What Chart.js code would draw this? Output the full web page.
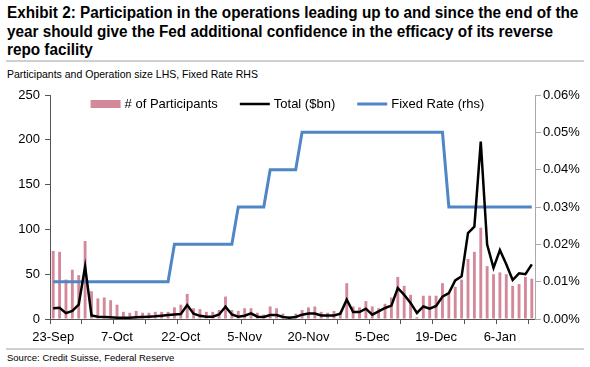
<!DOCTYPE html>
<html>
<head>
<meta charset="utf-8">
<script src="https://cdn.jsdelivr.net/npm/chart.js@4.4.1/dist/chart.umd.min.js"></script>
<style>
  html, body { margin: 0; padding: 0; background: #fff; }
  body { width: 590px; height: 367px; position: relative; overflow: hidden; font-family: "Liberation Sans", Arial, sans-serif; color: #000; }
  .title { position: absolute; left: 7px; top: 4px; font-size: 16px; font-weight: bold; line-height: 18.5px; white-space: nowrap; transform: scaleX(0.955); transform-origin: 0 0; }
  .rule { position: absolute; left: 6px; width: 578px; height: 2px; background: #d0d0d0; }
  .sub { position: absolute; left: 7px; top: 68px; font-size: 10.5px; white-space: nowrap; }
  .source { position: absolute; left: 7px; top: 352px; font-size: 9.5px; white-space: nowrap; }
  #chart { position: absolute; left: 0; top: 80px; }
</style>
</head>
<body>
<div class="title">Exhibit 2: Participation in the operations leading up to and since the end of the<br>year should give the Fed additional confidence in the efficacy of its reverse<br>repo facility</div>
<div class="rule" style="top: 60px"></div>
<div class="sub">Participants and Operation size LHS, Fixed Rate RHS</div>
<div class="rule" style="top: 348px"></div>
<div class="source">Source: Credit Suisse, Federal Reserve</div>
<canvas id="chart" width="590" height="270"></canvas>
<script>
// business days of the reverse repo test operations, Sep 2013 - Jan 2014
const dates = [
  "23-Sep", "24-Sep", "25-Sep", "26-Sep", "27-Sep", "30-Sep", "1-Oct", "2-Oct", "3-Oct", "4-Oct",
  "7-Oct", "8-Oct", "9-Oct", "10-Oct", "11-Oct", "15-Oct", "16-Oct", "17-Oct", "18-Oct", "21-Oct",
  "22-Oct", "23-Oct", "24-Oct", "25-Oct", "28-Oct", "29-Oct", "30-Oct", "31-Oct", "1-Nov", "4-Nov",
  "5-Nov", "6-Nov", "7-Nov", "8-Nov", "12-Nov", "13-Nov", "14-Nov", "15-Nov", "18-Nov", "19-Nov",
  "20-Nov", "21-Nov", "22-Nov", "25-Nov", "26-Nov", "27-Nov", "29-Nov", "2-Dec", "3-Dec", "4-Dec",
  "5-Dec", "6-Dec", "9-Dec", "10-Dec", "11-Dec", "12-Dec", "13-Dec", "16-Dec", "17-Dec", "18-Dec",
  "19-Dec", "20-Dec", "23-Dec", "24-Dec", "26-Dec", "27-Dec", "30-Dec", "31-Dec", "2-Jan", "3-Jan",
  "6-Jan", "7-Jan", "8-Jan", "9-Jan", "10-Jan", "13-Jan"
];

const participants = [
  76, 75, 44, 55, 49, 87, 31, 23, 24, 21,
  16, 8, 7, 9, 7, 7, 8, 8, 8, 13,
  16, 28, 12, 11, 8, 8, 10, 25, 10, 9,
  12, 12, 7, 5, 14, 12, 6, 3, 6, 10,
  13, 14, 8, 7, 9, 8, 40, 14, 13, 20,
  14, 12, 17, 24, 47, 37, 27, 2, 26, 26,
  26, 40, 29, 36, 44, 67, 75, 102, 59, 50,
  52, 50, 37, 39, 47, 45
];

const totalBn = [
  12, 12.5, 6.5, 9, 16, 58.5, 4, 2.5, 2.2, 2,
  1.5, 1.5, 1.5, 1.9, 2.2, 2.6, 3, 3.7, 4.5, 5,
  5.5, 15.6, 6, 3.5, 2.6, 2.6, 5, 13.8, 5, 2.6,
  3.7, 6.3, 2.6, 2.2, 4.5, 4.5, 2.2, 1.5, 2.2, 4.8,
  6, 6, 4, 4, 4, 6, 21.6, 7.8, 7.8, 11.5,
  4.8, 8.6, 12.3, 14.9, 34.6, 27, 18, 6.7, 14, 11.5,
  14.5, 25, 29, 43, 47.6, 96, 103, 198, 83, 57,
  77, 61, 43.5, 51, 50, 61
];

// fixed rate in percent
const fixedRate = [
  0.01, 0.01, 0.01, 0.01, 0.01, 0.01, 0.01, 0.01, 0.01, 0.01,
  0.01, 0.01, 0.01, 0.01, 0.01, 0.01, 0.01, 0.01, 0.01, 0.02,
  0.02, 0.02, 0.02, 0.02, 0.02, 0.02, 0.02, 0.02, 0.02, 0.03,
  0.03, 0.03, 0.03, 0.03, 0.04, 0.04, 0.04, 0.04, 0.04, 0.05,
  0.05, 0.05, 0.05, 0.05, 0.05, 0.05, 0.05, 0.05, 0.05, 0.05,
  0.05, 0.05, 0.05, 0.05, 0.05, 0.05, 0.05, 0.05, 0.05, 0.05,
  0.05, 0.05, 0.03, 0.03, 0.03, 0.03, 0.03, 0.03, 0.03, 0.03,
  0.03, 0.03, 0.03, 0.03, 0.03, 0.03
];

const FONT = '"Liberation Sans", Arial, sans-serif';
Chart.defaults.font.family = FONT;
Chart.defaults.color = '#000';

// legend sits inside the plot, along the top
const inlineLegend = {
  id: 'inlineLegend',
  afterDraw(chart) {
    const { ctx, chartArea } = chart;
    const y = chartArea.top + 9;
    ctx.save();
    ctx.font = '13px ' + FONT;
    ctx.textBaseline = 'middle';
    const items = chart.data.datasets.map(ds => ({ ds, w: 30 + 4 + ctx.measureText(ds.label).width }));
    const gap = 22;
    const total = items.reduce((s, it) => s + it.w, 0) + gap * (items.length - 1);
    let x = (chartArea.left + chartArea.right) / 2 - 5 - total / 2;
    items.forEach(({ ds, w }) => {
      if (ds.type === 'bar') {
        ctx.fillStyle = ds.backgroundColor;
        ctx.fillRect(x, y - 4, 30, 8);
      } else {
        ctx.strokeStyle = ds.borderColor;
        ctx.lineWidth = ds.borderWidth;
        ctx.beginPath();
        ctx.moveTo(x, y);
        ctx.lineTo(x + 30, y);
        ctx.stroke();
      }
      ctx.fillStyle = '#000';
      ctx.fillText(ds.label, x + 34, y + 0.5);
      x += w + gap;
    });
    ctx.restore();
  }
};

new Chart(document.getElementById('chart'), {
  type: 'bar',
  data: {
    labels: dates,
    datasets: [{
      type: 'bar',
      label: '# of Participants',
      data: participants,
      backgroundColor: '#d4899b',
      barPercentage: 0.45,
      categoryPercentage: 1,
      yAxisID: 'y',
      order: 3
    }, {
      type: 'line',
      label: 'Total ($bn)',
      data: totalBn,
      borderColor: '#000',
      borderWidth: 2.5,
      pointRadius: 0,
      tension: 0,
      yAxisID: 'y',
      order: 1
    }, {
      type: 'line',
      label: 'Fixed Rate (rhs)',
      data: fixedRate,
      borderColor: '#4f86c6',
      borderWidth: 3,
      pointRadius: 0,
      tension: 0,
      yAxisID: 'y1',
      order: 2
    }]
  },
  options: {
    responsive: false,
    animation: false,
    layout: { padding: { top: 15, left: 0, right: 0, bottom: 0 } },
    plugins: {
      legend: { display: false },
      tooltip: { enabled: false }
    },
    scales: {
      x: {
        offset: true,
        grid: {
          offset: true,
          drawOnChartArea: false,
          tickLength: 5,
          tickColor: ctx => ctx.index % 5 === 0 ? '#555' : 'rgba(0,0,0,0)'
        },
        border: { color: '#555' },
        ticks: {
          autoSkip: false,
          maxRotation: 0,
          minRotation: 0,
          padding: 6,
          font: { size: 13 },
          callback: function (v, i) { return i % 10 === 0 ? this.getLabelForValue(v) : ''; }
        },
        afterFit: s => { s.height = 31; }
      },
      y: {
        position: 'left',
        min: 0,
        max: 250,
        ticks: { stepSize: 50, padding: 5, font: { size: 13 } },
        grid: { drawOnChartArea: false, tickLength: 5, tickColor: '#555' },
        border: { color: '#555' },
        afterFit: s => { s.width = 50; }
      },
      y1: {
        position: 'right',
        min: 0,
        max: 0.06,
        ticks: { stepSize: 0.01, padding: 2, font: { size: 13 }, callback: v => v.toFixed(2) + '%' },
        grid: { drawOnChartArea: false, tickLength: 6, tickColor: '#aaa' },
        border: { color: '#aaa' },
        afterFit: s => { s.width = 55; }
      }
    }
  },
  plugins: [inlineLegend]
});
</script>
</body>
</html>
